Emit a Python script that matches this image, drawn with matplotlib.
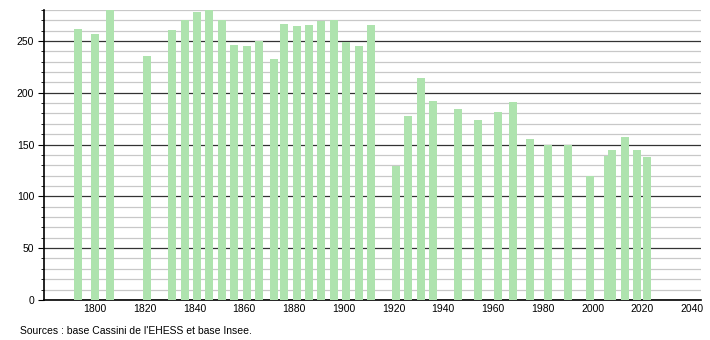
import matplotlib
matplotlib.use('Agg')
import matplotlib.pyplot as plt
from matplotlib.ticker import MultipleLocator

years = [1793, 1800, 1806, 1821, 1831, 1836, 1841, 1846, 1851, 1856, 1861,
         1866, 1872, 1876, 1881, 1886, 1891, 1896, 1901, 1906, 1911, 1921,
         1926, 1931, 1936, 1946, 1954, 1962, 1968, 1975, 1982, 1990, 1999,
         2006, 2008, 2013, 2018, 2022]
population = [262, 257, 285, 235, 261, 270, 278, 285, 270, 246, 245,
              250, 233, 266, 264, 265, 269, 270, 249, 245, 265, 129,
              178, 214, 192, 184, 174, 181, 191, 155, 150, 150, 120,
              139, 145, 157, 145, 138]
xticks = list(range(1800, 2041, 20))

plt.rcParams['font.family'] = ['Liberation Sans', 'DejaVu Sans']

fig = plt.figure(figsize=(7.1, 3.4), dpi=100)
ax = fig.add_axes([0.062, 0.118, 0.925, 0.853])

ax.bar(years, population, width=3.2, color='#aee3ae', zorder=3)

ax.set_xlim(1779.5, 2043.5)
ax.set_ylim(0, 280)
ax.yaxis.set_major_locator(MultipleLocator(50))
ax.yaxis.set_minor_locator(MultipleLocator(10))
ax.set_xticks(xticks)

ax.grid(axis='y', which='minor', color='#c8c8c8', linewidth=0.9, zorder=1)
ax.grid(axis='y', which='major', color='#333333', linewidth=0.9, zorder=2)

for s in ['top', 'right']:
    ax.spines[s].set_visible(False)
ax.spines['left'].set_linewidth(1.2)
ax.spines['bottom'].set_linewidth(1.2)

ax.tick_params(axis='y', which='major', length=4, labelsize=7.5, pad=3)
ax.tick_params(axis='y', which='minor', length=2.5)
ax.tick_params(axis='x', length=0, labelsize=7.5, pad=3)

fig.text(0.028, 0.012, "Sources : base Cassini de l'EHESS et base Insee.",
         fontsize=7.5, ha='left', va='bottom')

fig.savefig('out.png', dpi=100)
